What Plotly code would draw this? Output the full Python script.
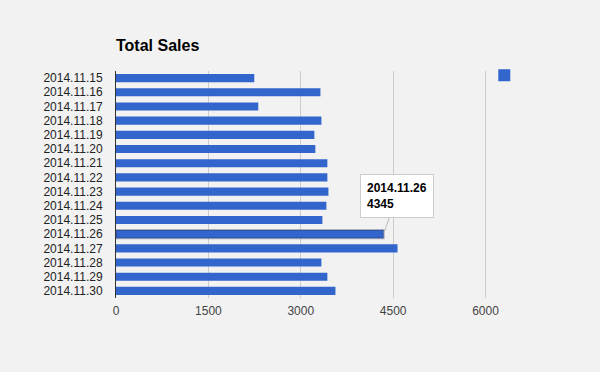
import plotly.graph_objects as go

dates = ["2014.11.15", "2014.11.16", "2014.11.17", "2014.11.18", "2014.11.19",
         "2014.11.20", "2014.11.21", "2014.11.22", "2014.11.23", "2014.11.24",
         "2014.11.25", "2014.11.26", "2014.11.27", "2014.11.28", "2014.11.29",
         "2014.11.30"]
sales = [2245, 3319, 2310, 3335, 3221, 3237, 3432, 3432, 3449, 3416,
         3351, 4345, 4571, 3335, 3432, 3563]
x_ticks = [0, 1500, 3000, 4500, 6000]
highlight = "2014.11.26"

line_w = [2 if d == highlight else 0 for d in dates]
line_c = ["rgba(40,50,90,0.35)" if d == highlight else "rgba(0,0,0,0)" for d in dates]

fig = go.Figure()
fig.add_trace(go.Bar(
    y=dates, x=sales, orientation="h", name=" ",
    marker=dict(color="#3366cc", line=dict(width=line_w, color=line_c)),
    width=0.57, showlegend=True, hoverinfo="skip",
))

hv = sales[dates.index(highlight)]
fig.add_annotation(
    x=hv, y=highlight, xref="x", yref="y",
    text=f"<b>{highlight}</b><br><b>{hv}</b>",
    align="left", showarrow=True, arrowhead=0, arrowwidth=1,
    arrowcolor="#bbbbbb", ax=13, ay=-38, standoff=2,
    bgcolor="white", bordercolor="#cccccc", borderwidth=1, borderpad=6,
    font=dict(family="Liberation Sans, Arial", size=12, color="#000000"),
)

fig.update_layout(
    width=600, height=372,
    paper_bgcolor="#f2f2f2", plot_bgcolor="#f2f2f2",
    margin=dict(l=116, r=112, t=71, b=74),
    font=dict(family="Liberation Sans, Arial", size=12, color="#222222"),
    title=dict(text="<b>Total Sales</b>", x=116 / 600, xanchor="left",
               y=1 - 45 / 372, yanchor="middle",
               font=dict(size=16, color="#000000")),
    bargap=0.43,
    showlegend=True,
    legend=dict(x=0.99, y=1.045, xanchor="left", yanchor="top",
                bgcolor="rgba(0,0,0,0)", font=dict(size=12),
                itemwidth=30),
    xaxis=dict(range=[0, 6040], tickvals=x_ticks, ticktext=[str(v) for v in x_ticks],
               showgrid=True, gridcolor="#cccccc", gridwidth=1,
               zeroline=False, showline=False, fixedrange=True,
               tickfont=dict(color="#444444", size=12), ticklabelstandoff=4),
    yaxis=dict(autorange="reversed", categoryorder="array", categoryarray=dates,
               showgrid=False, zeroline=False, showline=True, linecolor="#333333",
               linewidth=1, ticks="", ticklabelstandoff=10, fixedrange=True,
               tickfont=dict(color="#222222", size=12)),
)

fig.write_html("out.html", config={"displayModeBar": False},
               post_script="document.body.style.margin='0';document.body.style.overflow='hidden';")
